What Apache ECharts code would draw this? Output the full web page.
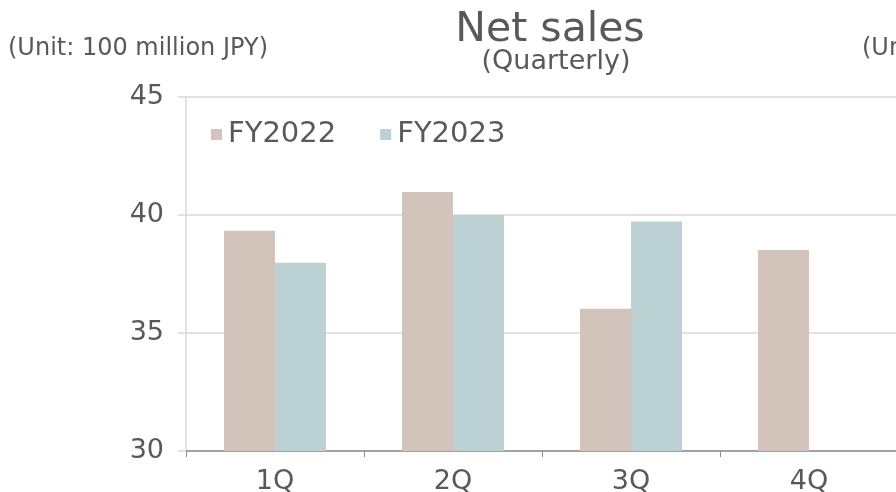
<!DOCTYPE html>
<html>
<head>
<meta charset="utf-8">
<script src="https://cdn.jsdelivr.net/npm/echarts@6/dist/echarts.min.js"></script>
<style>
  html, body { margin: 0; padding: 0; background: #fff; }
  #chart { width: 896px; height: 492px; }
</style>
</head>
<body>
<div id="chart"></div>
<script>
const quarters = ['1Q', '2Q', '3Q', '4Q']
const fy2022 = [39.33, 40.97, 36.03, 38.52]
const fy2023 = [37.98, 40.0, 39.72, null]
const yTicks = { min: 30, max: 45, interval: 5 }

const textColor = '#595959'
const fontFamily = '"DejaVu Sans", sans-serif'

const chart = echarts.init(document.getElementById('chart'))

const option = {
  animation: false,
  textStyle: { fontFamily },
  graphic: [
    {
      type: 'text', x: 550, y: 10,
      style: { text: 'Net sales', font: '400 41px ' + fontFamily, fill: textColor, textAlign: 'center' }
    },
    {
      type: 'text', x: 556, y: 48,
      style: { text: '(Quarterly)', font: '400 27px ' + fontFamily, fill: textColor, textAlign: 'center' }
    },
    {
      type: 'text', x: 8, y: 37,
      style: { text: '(Unit: 100 million JPY)', font: '400 24px ' + fontFamily, fill: textColor }
    },
    {
      type: 'text', x: 862, y: 37,
      style: { text: '(Unit: 100 million JPY)', font: '400 24px ' + fontFamily, fill: textColor }
    }
  ],
  legend: {
    left: 206,
    top: 115,
    icon: 'rect',
    itemWidth: 11,
    itemHeight: 11,
    itemGap: 44,
    textStyle: { color: textColor, fontSize: 29, padding: [0, 0, 0, 1] },
    data: ['FY2022', 'FY2023']
  },
  grid: { left: 186, right: -2, top: 97, bottom: 41, containLabel: false, outerBoundsMode: 'none' },
  xAxis: {
    type: 'category',
    data: quarters,
    axisLine: { lineStyle: { color: '#8c8c8c', width: 1.5 } },
    axisTick: { show: true, length: 6, lineStyle: { color: '#8c8c8c' } },
    axisLabel: { color: textColor, fontSize: 27, margin: 17 }
  },
  yAxis: {
    type: 'value',
    min: yTicks.min,
    max: yTicks.max,
    interval: yTicks.interval,
    axisLine: { show: true, lineStyle: { color: '#d9d9d9', width: 1.5 } },
    axisTick: { show: true, length: 8, lineStyle: { color: '#d9d9d9', width: 1.5 } },
    splitLine: { lineStyle: { color: '#d9d9d9', width: 1.5 } },
    axisLabel: { color: textColor, fontSize: 27, margin: 22 }
  },
  series: [
    {
      name: 'FY2022', type: 'bar', data: fy2022,
      barWidth: 51, barGap: '0%',
      itemStyle: { color: '#d3c4bb' }
    },
    {
      name: 'FY2023', type: 'bar', data: fy2023,
      barWidth: 51, barGap: '0%',
      itemStyle: { color: '#bcd1d4' }
    }
  ]
}

chart.setOption(option)
</script>
</body>
</html>
